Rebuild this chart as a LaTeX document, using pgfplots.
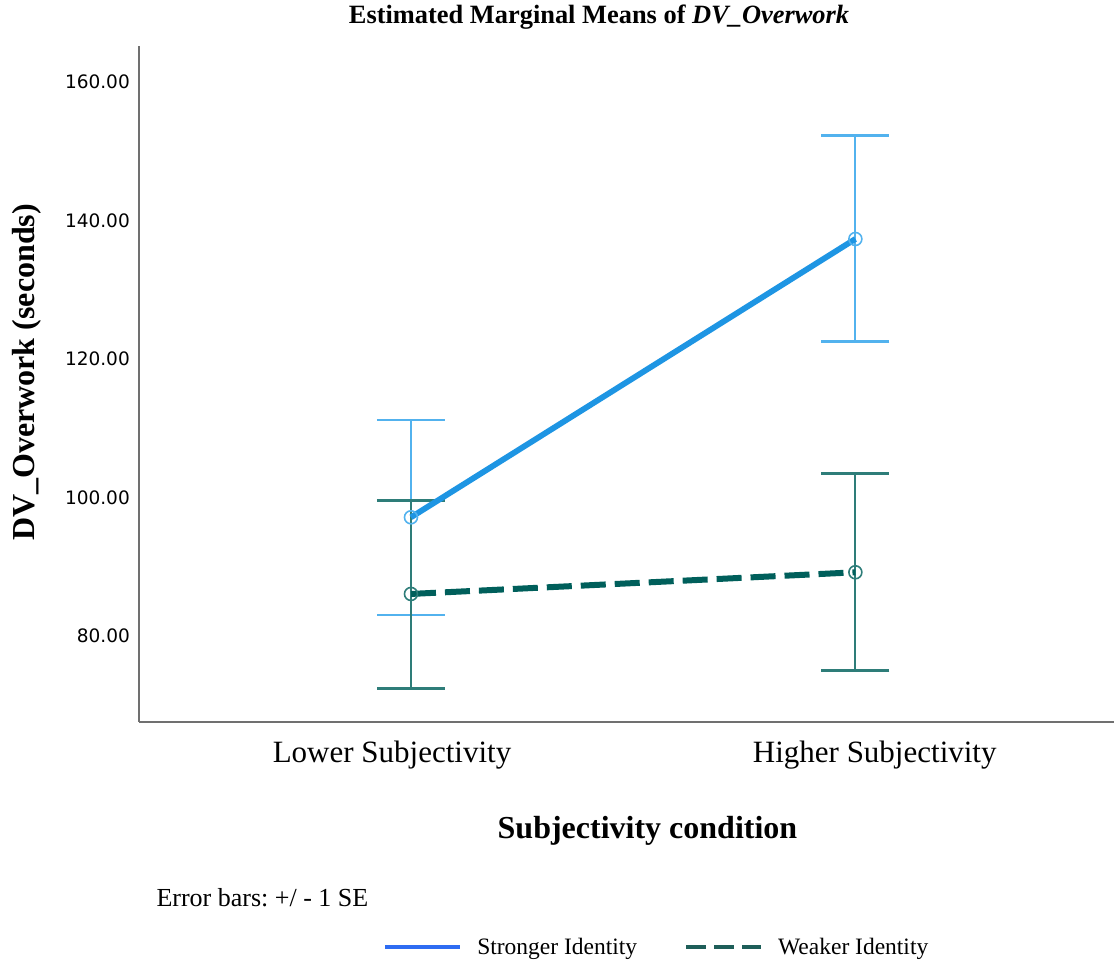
\documentclass[border=0pt]{standalone}
\usepackage{fontspec}
\setmainfont{Liberation Serif}
\newfontfamily\dejavu{DejaVu Sans}
\usepackage{pgfplots}
\usepackage{pgfplotstable}
\pgfplotsset{compat=1.18}
\definecolor{sblue}{HTML}{1E95E3}
\definecolor{sblueerr}{HTML}{52B2EE}
\definecolor{steal}{HTML}{005F5B}
\definecolor{stealerr}{HTML}{2E7D79}
\definecolor{legblue}{HTML}{2E6CF2}
\definecolor{legteal}{HTML}{1E5E59}
\definecolor{axgray}{HTML}{707070}
\frenchspacing

\pgfplotstableread{
x y ep em
0 97.14 14.05 14.11
1 137.33 14.92 14.83
}\strong
\pgfplotstableread{
x y ep em
0 86.07 13.47 13.62
1 89.20 14.29 14.21
}\weak

\begin{document}
\begin{tikzpicture}[x=1bp,y=1bp]
\useasboundingbox (0,0) rectangle (1114,961);
\begin{axis}[
  at={(139bp,239bp)}, anchor=south west,
  width=975bp, height=676bp, scale only axis,
  clip=false,
  xmin=-0.612, xmax=1.582, ymin=67.58, ymax=165.2,
  axis x line*=bottom, axis y line*=left,
  axis line style={-, draw=axgray, line width=1.5bp},
  major tick length=0pt,
  xtick={-0.0427,1.0436},
  xticklabels={Lower Subjectivity, Higher Subjectivity},
  xticklabel style={anchor=base, yshift=-41bp, font=\fontsize{31bp}{36bp}\selectfont},
  ytick={80,100,...,160},
  yticklabel style={anchor=east, inner sep=0pt, xshift=-9bp,
    font=\dejavu\fontsize{18.5bp}{22bp}\selectfont,
    /pgf/number format/fixed, /pgf/number format/fixed zerofill,
    /pgf/number format/precision=2, /pgf/number format/1000 sep={},
    /pgf/number format/assume math mode=true},
  title={Estimated Marginal Means of \textit{DV\_Overwork}},
  title style={at={(axis description cs:0.4718,1.0247)}, anchor=base,
    font=\bfseries\fontsize{26.4bp}{30bp}\selectfont},
  xlabel={Subjectivity condition},
  xlabel style={at={(axis description cs:0.5215,-0.1716)}, anchor=base,
    font=\bfseries\fontsize{32bp}{36bp}\selectfont},
  ylabel={DV\_Overwork (seconds)},
  ylabel style={at={(axis description cs:-0.1149,0.5170)}, anchor=center,
    font=\bfseries\fontsize{32bp}{36bp}\selectfont},
  legend columns=2,
  legend cell align=left,
  legend image code/.code={\draw[#1] (0bp,0bp) -- (75bp,0bp);},
  legend style={at={(axis description cs:0.2503,-0.3328)}, anchor=west,
    draw=none, fill=none, inner sep=0pt,
    font=\fontsize{23.5bp}{28bp}\selectfont,
    nodes={inner sep=0pt},
    /tikz/every odd column/.append style={column sep=15bp},
    /tikz/every even column/.append style={column sep=47bp}},
]
\addplot[draw=none, forget plot,
  error bars/.cd, y dir=both, y explicit, error mark=|,
  error bar style={draw=sblueerr, line width=2bp},
  error mark options={draw=sblueerr, line width=2.5bp, mark size=34bp}]
  table[x=x, y=y, y error plus=ep, y error minus=em]{\strong};
\addplot[draw=none, forget plot,
  error bars/.cd, y dir=both, y explicit, error mark=|,
  error bar style={draw=stealerr, line width=2bp},
  error mark options={draw=stealerr, line width=2.5bp, mark size=34bp}]
  table[x=x, y=y, y error plus=ep, y error minus=em]{\weak};
\addplot[sblue, line width=5.8bp, forget plot, mark=o, mark size=6.5bp,
  mark options={solid, draw=sblueerr, line width=1.6bp, fill=none}]
  table[x=x, y=y]{\strong};
\addplot[steal, line width=6bp, dash pattern=on 25bp off 9bp, forget plot,
  mark=o, mark size=6.5bp,
  mark options={solid, draw=stealerr, line width=1.6bp, fill=none}]
  table[x=x, y=y]{\weak};
\addlegendimage{legblue, line width=4bp}
\addlegendentry{Stronger Identity}
\addlegendimage{legteal, line width=4bp, dash pattern=on 20bp off 8bp}
\addlegendentry{Weaker Identity}
\node[anchor=base west, font=\fontsize{26bp}{30bp}\selectfont]
  at (axis description cs:0.01436,-0.2722) {Error bars: +/ - 1 SE};
\end{axis}
\end{tikzpicture}
\end{document}
